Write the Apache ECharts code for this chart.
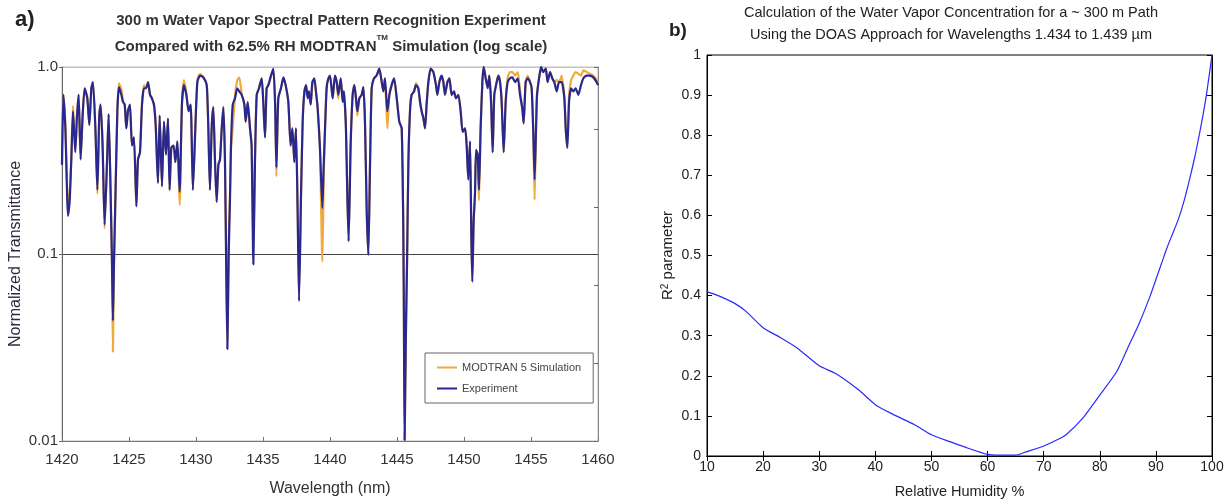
<!DOCTYPE html>
<html>
<head>
<meta charset="utf-8">
<script src="https://cdn.jsdelivr.net/npm/echarts@6/dist/echarts.min.js"></script>
<style>html,body{margin:0;padding:0;background:#fff;}#c{width:1229px;height:504px;}</style>
</head>
<body>
<div id="c"></div>
<script>
// ---------- Panel a) spectral data ----------
const wavelength = [
1420.00,1420.10,1420.25,1420.45,1420.57,1420.70,1420.82,1420.99,1421.12,1421.24,
1421.39,1421.54,1421.69,1421.89,1422.04,1422.19,1422.31,1422.49,1422.64,1422.78,
1422.88,1423.03,1423.18,1423.36,1423.48,1423.63,1423.73,1423.80,1423.88,1423.98,
1424.13,1424.25,1424.43,1424.55,1424.68,1424.80,1424.92,1425.07,1425.22,1425.37,
1425.55,1425.67,1425.82,1425.97,1426.12,1426.27,1426.42,1426.57,1426.71,1426.86,
1426.99,1427.16,1427.29,1427.46,1427.61,1427.76,1427.91,1428.03,1428.16,1428.33,
1428.46,1428.61,1428.78,1428.95,1429.10,1429.28,1429.45,1429.60,1429.77,1429.95,
1430.10,1430.30,1430.55,1430.80,1430.92,1431.04,1431.17,1431.29,1431.42,1431.54,
1431.67,1431.79,1431.92,1432.04,1432.16,1432.26,1432.34,1432.44,1432.54,1432.61,
1432.74,1432.91,1433.08,1433.23,1433.41,1433.61,1433.71,1433.86,1434.03,1434.15,
1434.28,1434.40,1434.53,1434.70,1434.90,1435.02,1435.15,1435.27,1435.40,1435.60,
1435.77,1435.90,1436.00,1436.14,1436.34,1436.52,1436.69,1436.89,1437.06,1437.19,
1437.34,1437.46,1437.59,1437.69,1437.84,1437.96,1438.09,1438.21,1438.33,1438.43,
1438.56,1438.68,1438.83,1438.95,1439.08,1439.25,1439.43,1439.53,1439.63,1439.75,
1439.88,1440.00,1440.20,1440.37,1440.50,1440.62,1440.80,1440.95,1441.04,1441.19,
1441.29,1441.39,1441.54,1441.69,1441.82,1441.94,1442.04,1442.19,1442.36,1442.49,
1442.61,1442.74,1442.86,1442.99,1443.11,1443.28,1443.48,1443.68,1443.86,1443.98,
1444.10,1444.28,1444.43,1444.60,1444.78,1444.98,1445.17,1445.35,1445.47,1445.52,
1445.57,1445.62,1445.67,1445.75,1445.85,1445.97,1446.09,1446.27,1446.42,1446.59,
1446.72,1446.84,1446.97,1447.09,1447.21,1447.34,1447.51,1447.71,1447.91,1448.01,
1448.16,1448.33,1448.46,1448.58,1448.76,1448.91,1449.08,1449.25,1449.40,1449.58,
1449.75,1449.90,1450.08,1450.20,1450.32,1450.45,1450.55,1450.62,1450.72,1450.82,
1450.90,1451.02,1451.12,1451.24,1451.37,1451.47,1451.62,1451.77,1451.89,1452.02,
1452.14,1452.26,1452.44,1452.56,1452.69,1452.81,1452.96,1453.11,1453.26,1453.43,
1453.61,1453.81,1454.01,1454.18,1454.35,1454.45,1454.60,1454.75,1454.93,1455.05,
1455.17,1455.27,1455.37,1455.45,1455.60,1455.75,1455.92,1456.10,1456.24,1456.42,
1456.59,1456.74,1456.92,1457.09,1457.29,1457.49,1457.59,1457.71,1457.84,1457.99,
1458.16,1458.33,1458.53,1458.73,1458.91,1459.15,1459.40,1459.65,1459.90,1460.00
];
const experiment = [
0.30,0.71,0.47,0.16,0.19,0.33,0.58,0.35,0.55,0.71,
0.32,0.55,0.77,0.68,0.49,0.77,0.83,0.47,0.22,0.55,
0.63,0.38,0.143,0.31,0.56,0.21,0.09,0.044,0.09,0.19,
0.58,0.78,0.71,0.65,0.63,0.47,0.58,0.63,0.38,0.42,
0.18,0.32,0.35,0.63,0.77,0.77,0.83,0.71,0.68,0.63,
0.49,0.24,0.55,0.23,0.51,0.34,0.53,0.22,0.37,0.38,
0.31,0.40,0.215,0.63,0.80,0.71,0.58,0.63,0.22,0.47,
0.83,0.90,0.88,0.80,0.47,0.22,0.47,0.61,0.31,0.19,
0.30,0.32,0.47,0.61,0.32,0.08,0.031,0.10,0.20,0.38,
0.63,0.68,0.77,0.74,0.71,0.63,0.51,0.65,0.47,0.38,
0.088,0.31,0.71,0.77,0.87,0.65,0.42,0.77,0.80,0.90,
0.98,0.65,0.29,0.68,0.77,0.88,0.80,0.65,0.38,0.47,
0.31,0.47,0.16,0.056,0.21,0.51,0.74,0.80,0.68,0.74,
0.63,0.83,0.87,0.74,0.60,0.37,0.176,0.30,0.47,0.77,
0.87,0.90,0.68,0.90,0.83,0.71,0.87,0.65,0.74,0.47,
0.21,0.117,0.38,0.71,0.80,0.68,0.58,0.68,0.71,0.78,
0.51,0.17,0.099,0.31,0.77,0.87,0.90,0.98,0.83,0.74,
0.87,0.58,0.71,0.80,0.87,0.68,0.51,0.47,0.137,0.04,
0.0101,0.0101,0.04,0.09,0.31,0.58,0.71,0.74,0.80,0.77,
0.65,0.58,0.53,0.47,0.63,0.83,0.98,0.94,0.80,0.71,
0.83,0.90,0.83,0.71,0.83,0.87,0.71,0.74,0.68,0.71,
0.58,0.45,0.47,0.38,0.25,0.40,0.12,0.071,0.15,0.21,
0.36,0.34,0.22,0.47,0.83,1.0,0.87,0.77,0.90,0.65,
0.35,0.71,0.83,0.90,0.83,0.65,0.35,0.65,0.83,0.87,
0.88,0.83,0.87,0.71,0.60,0.50,0.83,0.87,0.83,0.77,
0.45,0.25,0.45,0.71,0.87,1.0,0.94,0.98,0.83,0.94,
0.87,0.83,0.74,0.83,0.83,0.68,0.47,0.37,0.65,0.77,
0.74,0.77,0.71,0.80,0.87,0.90,0.90,0.88,0.83,0.80
];
const modtran = [
0.30,0.71,0.50,0.18,0.21,0.33,0.62,0.36,0.55,0.71,
0.32,0.55,0.77,0.68,0.49,0.77,0.83,0.47,0.21,0.55,
0.63,0.38,0.137,0.31,0.56,0.21,0.09,0.030,0.085,0.19,
0.58,0.82,0.76,0.66,0.63,0.47,0.58,0.63,0.38,0.42,
0.18,0.32,0.35,0.63,0.80,0.77,0.83,0.71,0.68,0.63,
0.49,0.24,0.55,0.23,0.51,0.34,0.53,0.22,0.37,0.38,
0.31,0.40,0.183,0.63,0.85,0.73,0.58,0.63,0.22,0.47,
0.85,0.92,0.88,0.80,0.47,0.22,0.47,0.61,0.31,0.19,
0.30,0.32,0.47,0.61,0.32,0.08,0.034,0.12,0.22,0.36,
0.47,0.70,0.85,0.88,0.72,0.63,0.51,0.65,0.47,0.38,
0.11,0.31,0.71,0.77,0.87,0.65,0.42,0.77,0.80,0.90,
0.96,0.65,0.26,0.68,0.77,0.86,0.80,0.65,0.38,0.47,
0.31,0.47,0.16,0.060,0.21,0.51,0.74,0.80,0.72,0.74,
0.63,0.80,0.85,0.74,0.60,0.37,0.091,0.25,0.47,0.80,
0.87,0.90,0.68,0.90,0.83,0.68,0.87,0.65,0.74,0.47,
0.21,0.117,0.38,0.71,0.80,0.68,0.55,0.68,0.71,0.78,
0.51,0.17,0.099,0.31,0.77,0.87,0.90,0.98,0.83,0.74,
0.87,0.47,0.71,0.80,0.87,0.68,0.51,0.47,0.137,0.04,
0.0101,0.0101,0.04,0.09,0.31,0.58,0.71,0.74,0.82,0.77,
0.65,0.58,0.53,0.47,0.63,0.83,0.98,0.94,0.80,0.71,
0.83,0.90,0.83,0.71,0.83,0.87,0.71,0.74,0.68,0.71,
0.58,0.45,0.47,0.38,0.25,0.40,0.12,0.075,0.15,0.21,
0.36,0.34,0.194,0.47,0.83,1.0,0.87,0.77,0.90,0.65,
0.35,0.71,0.83,0.90,0.83,0.65,0.35,0.65,0.88,0.94,
0.94,0.90,0.94,0.75,0.60,0.50,0.83,0.90,0.83,0.77,
0.45,0.195,0.45,0.71,0.87,0.96,0.94,0.98,0.83,0.94,
0.87,0.83,0.85,0.83,0.90,0.68,0.47,0.37,0.70,0.85,
0.90,0.94,0.92,0.90,0.96,0.94,0.92,0.90,0.85,0.82
];
const wavelengthTicks = [1420,1425,1430,1435,1440,1445,1450,1455,1460];

// ---------- Panel b) R^2 vs relative humidity ----------
const humidity = [10,12,15,17,20,23,26,30,33,37,40,43,47,50,53,56,60,62,65,67,70,72.5,74,77,80,83,85,87,89,90,91,92,93,94,95,96,97,98,99,100];
const r2 = [0.41,0.40,0.38,0.36,0.32,0.296,0.27,0.225,0.205,0.165,0.128,0.105,0.078,0.053,0.037,0.022,0.004,0.002,0.002,0.011,0.025,0.041,0.053,0.095,0.152,0.21,0.27,0.33,0.40,0.44,0.48,0.52,0.555,0.59,0.635,0.69,0.75,0.82,0.90,1.0];

const modPairs = wavelength.map((w, i) => [w, modtran[i]]);
const expPairs = wavelength.map((w, i) => [w, experiment[i]]);
const r2Pairs = humidity.map((h, i) => [h, r2[i]]);

const FA = '"Liberation Sans", Arial, sans-serif';
const chart = echarts.init(document.getElementById('c'), null, {renderer: 'canvas'});
chart.setOption({
  animation: false,
  backgroundColor: '#fff',
  title: [
    {text: 'a)', left: 10, top: 4, textStyle: {fontFamily: FA, fontSize: 22, fontWeight: 'bold', color: '#222'}},
    {text: 'b)', left: 664, top: 16, textStyle: {fontFamily: FA, fontSize: 19, fontWeight: 'bold', color: '#222'}},
    {
      text: '300 m Water Vapor Spectral Pattern Recognition Experiment\nCompared with 62.5% RH MODTRAN{sup|TM} Simulation (log scale)',
      left: 326, top: 3, textAlign: 'center',
      textStyle: {fontFamily: FA, fontSize: 15, fontWeight: 'bold', color: '#333', lineHeight: 26,
        rich: {sup: {fontFamily: FA, fontSize: 8, fontWeight: 'bold', color: '#333', verticalAlign: 'top', lineHeight: 18}}}
    },
    {
      text: 'Calculation of the Water Vapor Concentration for a ~ 300 m Path\nUsing the DOAS Approach for Wavelengths 1.434 to 1.439 \u00b5m',
      left: 946, top: -3, textAlign: 'center',
      textStyle: {fontFamily: FA, fontSize: 14.5, fontWeight: 'normal', color: '#222', lineHeight: 22}
    }
  ],
  legend: {
    data: ['MODTRAN 5 Simulation', 'Experiment'],
    orient: 'vertical', left: 425, top: 353,
    backgroundColor: '#fff', borderColor: '#666', borderWidth: 1,
    padding: [9, 12, 9, 12], itemGap: 10, itemWidth: 20, itemHeight: 2, icon: 'rect',
    textStyle: {fontFamily: FA, fontSize: 11, color: '#444'}
  },
  grid: [
    {left: 62, top: 67, width: 536, height: 374, show: true, borderColor: '#bbb', borderWidth: 1, backgroundColor: '#fff'},
    {left: 707, top: 55, width: 505, height: 402, show: true, borderColor: '#000', borderWidth: 1, backgroundColor: '#fff'}
  ],
  xAxis: [
    {gridIndex: 0, type: 'value', min: 1420, max: 1460, interval: 5,
      name: 'Wavelength (nm)', nameLocation: 'middle', nameGap: 40,
      nameTextStyle: {fontFamily: FA, fontSize: 16, color: '#333'},
      axisLine: {lineStyle: {color: '#777'}},
      axisTick: {inside: true, length: 4, lineStyle: {color: '#777'}},
      axisLabel: {fontFamily: FA, fontSize: 15, color: '#333', margin: 11,
        formatter: v => wavelengthTicks.includes(v) ? String(v) : ''},
      splitLine: {show: false}},
    {gridIndex: 1, type: 'value', min: 10, max: 100, interval: 10,
      name: 'Relative Humidity %', nameLocation: 'middle', nameGap: 28,
      nameTextStyle: {fontFamily: FA, fontSize: 14.5, color: '#222'},
      axisLine: {lineStyle: {color: '#000'}},
      axisTick: {inside: true, length: 5, lineStyle: {color: '#000'}},
      axisLabel: {fontFamily: FA, fontSize: 14, color: '#222', margin: 4},
      splitLine: {show: false}},
    {gridIndex: 1, type: 'value', position: 'top', min: 10, max: 100, interval: 10,
      axisLine: {lineStyle: {color: '#000'}},
      axisTick: {inside: true, length: 5, lineStyle: {color: '#000'}},
      axisLabel: {show: false}, splitLine: {show: false}}
  ],
  yAxis: [
    {gridIndex: 0, type: 'log', logBase: 10, min: 0.01, max: 1,
      name: 'Normalized Transmittance', nameLocation: 'middle', nameGap: 38,
      nameTextStyle: {fontFamily: FA, fontSize: 16, color: '#35263f'},
      axisLine: {show: true, lineStyle: {color: '#666'}},
      axisTick: {show: true, length: 3, lineStyle: {color: '#666'}},
      axisLabel: {fontFamily: FA, fontSize: 15, color: '#333', margin: 4,
        formatter: v => Math.abs(v - 1) < 1e-6 ? '1.0' : (Math.abs(v - 0.1) < 1e-6 ? '0.1' : '0.01')},
      splitLine: {show: true, lineStyle: {color: ['#777', '#444', '#c4c4c4'], width: 1}}},
    {gridIndex: 0, type: 'value', position: 'right', min: 0, max: 4.795, interval: 1,
      axisLine: {show: true, lineStyle: {color: '#888'}},
      axisTick: {show: true, inside: true, length: 4, lineStyle: {color: '#666'}},
      axisLabel: {show: false}, splitLine: {show: false}},
    {gridIndex: 1, type: 'value', min: 0, max: 1, interval: 0.1,
      name: 'R{sup|2} parameter', nameLocation: 'middle', nameGap: 32,
      nameTextStyle: {fontFamily: FA, fontSize: 15, color: '#222',
        rich: {sup: {fontFamily: FA, fontSize: 10, color: '#222', verticalAlign: 'top', lineHeight: 10}}},
      axisLine: {show: true, lineStyle: {color: '#000'}},
      axisTick: {show: true, inside: true, length: 5, lineStyle: {color: '#000'}},
      axisLabel: {fontFamily: FA, fontSize: 14, color: '#222', margin: 6},
      splitLine: {show: false}},
    {gridIndex: 1, type: 'value', position: 'right', min: 0, max: 1, interval: 0.1,
      axisLine: {show: true, lineStyle: {color: '#000'}},
      axisTick: {show: true, inside: true, length: 5, lineStyle: {color: '#000'}},
      axisLabel: {show: false}, splitLine: {show: false}}
  ],
  series: [
    {name: 'MODTRAN 5 Simulation', type: 'line', xAxisIndex: 0, yAxisIndex: 0, data: modPairs, smooth: 0.2,
      showSymbol: false, symbol: 'none', lineStyle: {color: '#f2a93b', width: 2.2}, itemStyle: {color: '#f2a93b'}, z: 2},
    {name: 'Experiment', type: 'line', xAxisIndex: 0, yAxisIndex: 0, data: expPairs, smooth: 0.2,
      showSymbol: false, symbol: 'none', lineStyle: {color: '#28288e', width: 2.2}, itemStyle: {color: '#28288e'}, z: 3},
    {name: 'R2', type: 'line', xAxisIndex: 1, yAxisIndex: 2, data: r2Pairs, smooth: 0.2,
      showSymbol: false, symbol: 'none', lineStyle: {color: '#2a2aff', width: 1.2}, z: 3}
  ]
});
</script>
</body>
</html>
